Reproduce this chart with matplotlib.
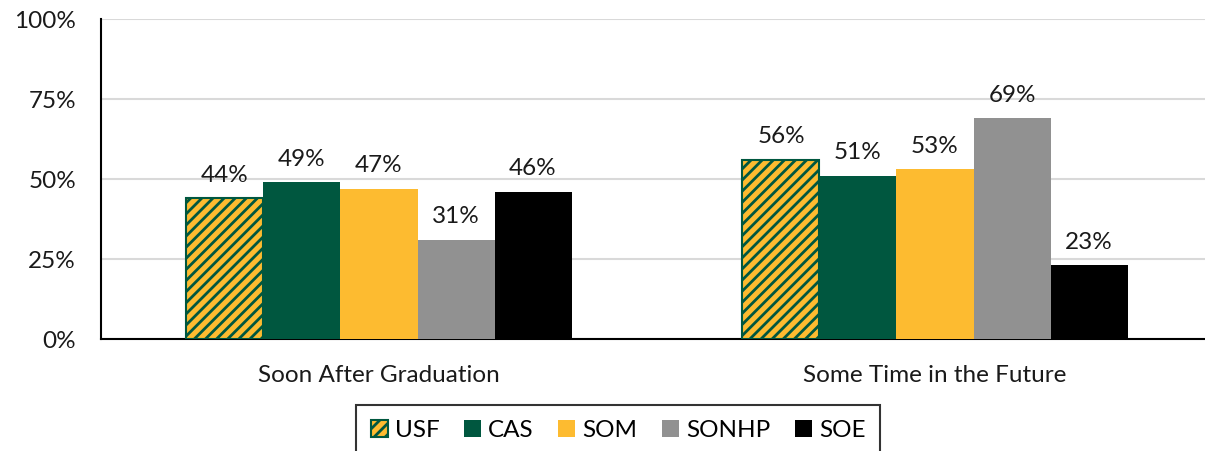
import matplotlib
matplotlib.use("Agg")
import matplotlib.pyplot as plt
import numpy as np

categories = ["Soon After Graduation", "Some Time in the Future"]
series = ["USF", "CAS", "SOM", "SONHP", "SOE"]
usf = [44, 56]
cas = [49, 51]
som = [47, 53]
sonhp = [31, 69]
soe = [46, 23]
values = [usf, cas, som, sonhp, soe]
yticks = [0, 25, 50, 75, 100]

GREEN = "#00573F"
GOLD = "#FDBB30"
GRAY = "#919191"
BLACK = "#000000"
colors = [GOLD, GREEN, GOLD, GRAY, BLACK]
TXT = "#1a1a1a"
FS = 17.5

plt.rcParams["font.family"] = ["Lato", "DejaVu Sans"]
plt.rcParams["hatch.color"] = GREEN
plt.rcParams["hatch.linewidth"] = 2.0

W, H = 1205, 451
fig = plt.figure(figsize=(W / 100, H / 100), dpi=100)
ax = fig.add_axes([101 / W, 1 - 339 / H, (1205 - 101) / W, (339 - 19) / H])

x = np.arange(len(categories))
bw = 0.1385
offsets = (np.arange(len(series)) - 2) * bw
for i, (name, vals) in enumerate(zip(series, values)):
    if name == "USF":
        bars = ax.bar(x + offsets[i], vals, bw, color=GOLD, edgecolor=GREEN,
                      hatch="///", linewidth=1.5, label=name, zorder=3)
    else:
        bars = ax.bar(x + offsets[i], vals, bw, color=colors[i], edgecolor="none",
                      label=name, zorder=3)
    for b, v in zip(bars, vals):
        ax.annotate(f"{v}%", (b.get_x() + b.get_width() / 2, v),
                    xytext=(0, 9), textcoords="offset points",
                    ha="center", va="bottom", fontsize=FS, color=TXT)

ax.set_xlim(-0.5, -0.5 + 1104 / 556)
ax.set_ylim(0, 100)
ax.set_yticks(yticks)
ax.set_yticklabels([f"{t}%" for t in yticks], fontsize=FS, color=TXT)
ax.set_xticks(x)
ax.set_xticklabels(categories, fontsize=FS, color=TXT)
ax.tick_params(axis="both", length=0)
ax.tick_params(axis="x", pad=19)
ax.tick_params(axis="y", pad=18)
ax.grid(axis="y", color="#D9D9D9", linewidth=1.5, zorder=0)
for s in ["top", "right"]:
    ax.spines[s].set_visible(False)
for s in ["left", "bottom"]:
    ax.spines[s].set_color("#000000")
    ax.spines[s].set_linewidth(1.5)
ax.set_axisbelow(True)

leg = fig.legend(loc="upper center", bbox_to_anchor=(618 / W, 1 - 405 / H), ncol=5,
                 fontsize=FS, frameon=True, fancybox=False, edgecolor="#000000",
                 handlelength=0.7, handleheight=0.7, handletextpad=0.3,
                 columnspacing=1.0, borderpad=0.6, borderaxespad=0)
leg.get_frame().set_linewidth(1.5)

fig.savefig("out.png", dpi=100)
